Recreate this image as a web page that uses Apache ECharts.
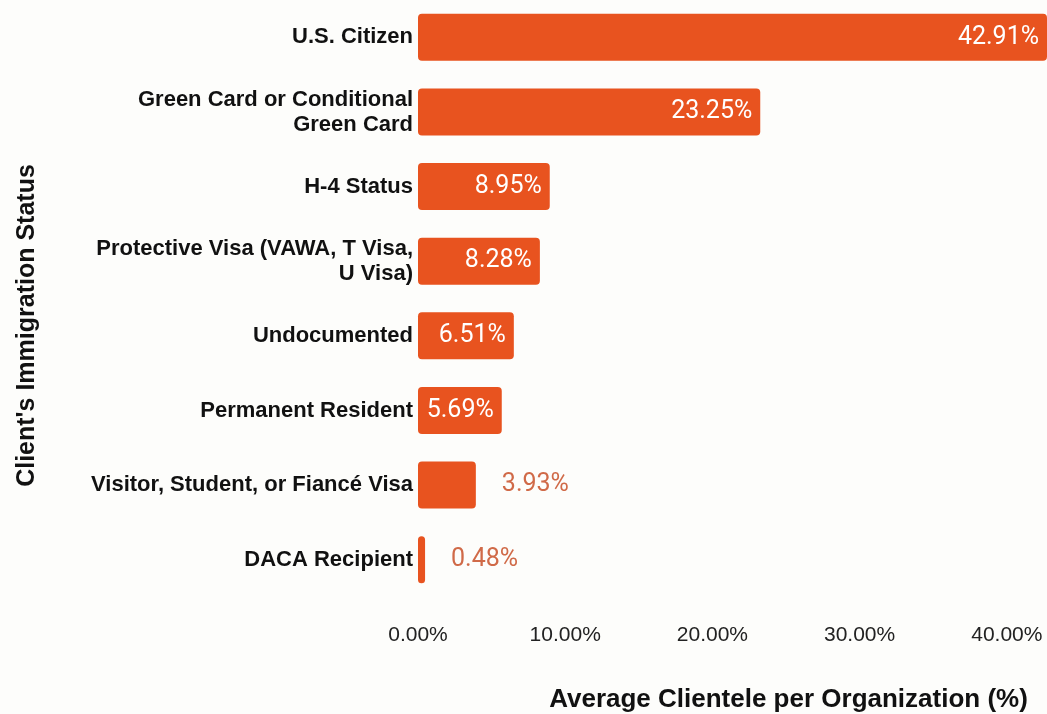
<!DOCTYPE html>
<html>
<head>
<meta charset="utf-8">
<script src="https://cdn.jsdelivr.net/npm/echarts@6/dist/echarts.min.js"></script>
<style>
  html, body { margin: 0; padding: 0; background: #fdfdfb; overflow: hidden; }
  #chart { width: 1047px; height: 714px; }
</style>
</head>
<body>
<div id="chart"></div>
<script>
// Immigration status categories, top to bottom
const categories = [
  'U.S. Citizen',
  'Green Card or Conditional\nGreen Card',
  'H-4 Status',
  'Protective Visa (VAWA, T Visa,\nU Visa)',
  'Undocumented',
  'Permanent Resident',
  'Visitor, Student, or Fiancé Visa',
  'DACA Recipient'
];
// Average share of clientele per organization (%)
const shares = [42.91, 23.25, 8.95, 8.28, 6.51, 5.69, 3.93, 0.48];
const xTicks = [0, 10, 20, 30, 40];

const barColor = '#e8531f';
const outsideColor = '#d06a48';

// Short bars get their value label outside the bar
const seriesData = shares.map(v => {
  const outside = v < 5;
  return {
    value: v,
    label: outside
      ? { position: 'right', distance: 26, color: outsideColor }
      : { position: 'insideRight', distance: 8, color: '#ffffff' }
  };
});

const chart = echarts.init(document.getElementById('chart'), null, { renderer: 'canvas' });
chart.setOption({
  backgroundColor: '#fdfdfb',
  animation: false,
  grid: {
    left: 418, right: 0, top: 0, bottom: 117,
    containLabel: false,
    outerBoundsMode: 'none'
  },
  xAxis: {
    type: 'value',
    min: 0,
    max: 42.73,
    interval: 10,
    splitLine: { show: false },
    axisLine: { show: false },
    axisTick: { show: false },
    axisLabel: {
      showMaxLabel: false,
      margin: 28,
      fontFamily: 'Liberation Sans, Arial, sans-serif',
      fontSize: 21,
      color: '#222',
      formatter: v => xTicks.includes(v) ? v.toFixed(2) + '%' : ''
    },
    name: 'Average Clientele per Organization (%)',
    nameLocation: 'middle',
    nameGap: 90,
    nameTextStyle: {
      fontFamily: 'Liberation Sans, Arial, sans-serif',
      fontWeight: 'bold',
      fontSize: 26,
      color: '#111',
      padding: [0, 0, 0, 112]
    }
  },
  yAxis: {
    type: 'category',
    inverse: true,
    data: categories,
    axisLine: { show: false },
    axisTick: { show: false },
    axisLabel: {
      margin: 5,
      fontFamily: 'Liberation Sans, Arial, sans-serif',
      fontWeight: 'bold',
      fontSize: 22,
      lineHeight: 25,
      color: '#111',
      align: 'right'
    },
    name: "Client's Immigration Status",
    nameLocation: 'middle',
    nameRotate: 90,
    nameGap: 378,
    nameTextStyle: {
      fontFamily: 'Liberation Sans, Arial, sans-serif',
      fontWeight: 'bold',
      fontSize: 25,
      color: '#111',
      padding: [0, 54, 0, 0]
    }
  },
  series: [{
    type: 'bar',
    data: seriesData,
    barWidth: 47,
    itemStyle: { color: barColor, borderRadius: 4 },
    label: {
      show: true,
      fontFamily: 'Roboto, sans-serif',
      fontSize: 25,
      formatter: p => p.value.toFixed(2) + '%'
    }
  }]
});
</script>
</body>
</html>
